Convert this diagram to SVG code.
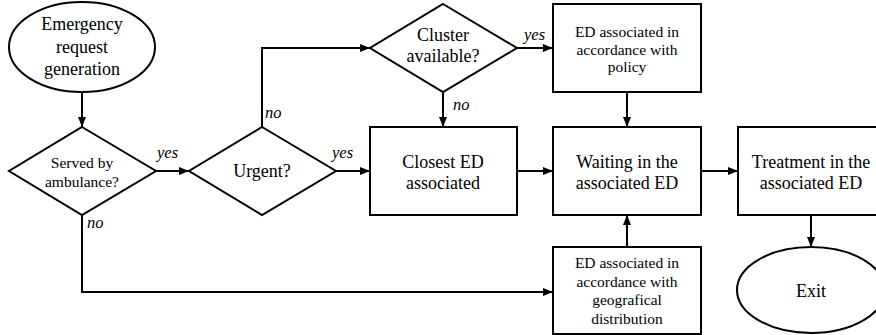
<svg xmlns="http://www.w3.org/2000/svg" width="876" height="335" viewBox="0 0 876 335">
<style>
.s{fill:#fff;stroke:#000;stroke-width:2}
.c{fill:none;stroke:#000;stroke-width:2}
text{fill:#000;text-anchor:middle;font-family:"Liberation Serif","Times New Roman",serif}
.t16{font-size:18px}
.t14{font-size:15.5px}
.t13{font-size:15.5px}
.lb{font-size:16.5px;font-style:italic;text-anchor:start}
</style>
<defs>
<marker id="ah" viewBox="0 0 10 8" refX="10" refY="4" markerWidth="10" markerHeight="8" markerUnits="userSpaceOnUse" orient="auto">
<path d="M0,0 L10,4 L0,8 Z" fill="#000"/>
</marker>
</defs>
<rect width="876" height="335" fill="#fff"/>
<g id="connectors">
<line class="c" x1="82" y1="92" x2="82" y2="127" marker-end="url(#ah)"/>
<line class="c" x1="156" y1="171" x2="189" y2="171" marker-end="url(#ah)"/>
<line class="c" x1="336" y1="171" x2="370" y2="171" marker-end="url(#ah)"/>
<polyline class="c" points="262,127 262,48 370,48" marker-end="url(#ah)"/>
<line class="c" x1="517" y1="48" x2="553" y2="48" marker-end="url(#ah)"/>
<line class="c" x1="443" y1="92" x2="443" y2="127" marker-end="url(#ah)"/>
<line class="c" x1="627" y1="92" x2="627" y2="127" marker-end="url(#ah)"/>
<line class="c" x1="517" y1="171" x2="553" y2="171" marker-end="url(#ah)"/>
<line class="c" x1="701" y1="171" x2="738" y2="171" marker-end="url(#ah)"/>
<line class="c" x1="627" y1="247" x2="627" y2="215" marker-end="url(#ah)"/>
<polyline class="c" points="82,215 82,292 553,292" marker-end="url(#ah)"/>
<line class="c" x1="811" y1="215" x2="811" y2="247" marker-end="url(#ah)"/>
<text class="lb" x="157" y="158">yes</text>
<text class="lb" x="332" y="158">yes</text>
<text class="lb" x="265" y="118">no</text>
<text class="lb" x="87" y="228">no</text>
<text class="lb" x="524" y="40">yes</text>
<text class="lb" x="453" y="110">no</text>
</g>
<g id="start">
<ellipse class="s" cx="82" cy="47" rx="73" ry="45"/>
<text class="t16" x="82" y="30">Emergency</text>
<text class="t16" x="82" y="53">request</text>
<text class="t16" x="82" y="75">generation</text>
</g>
<g id="served">
<polygon class="s" points="82,127 156,171 82,215 9,171"/>
<text class="t14" x="82" y="168">Served by</text>
<text class="t14" x="82" y="187">ambulance?</text>
</g>
<g id="urgent">
<polygon class="s" points="262,127 336,171 262,215 189,171"/>
<text class="t16" x="262" y="177">Urgent?</text>
</g>
<g id="cluster">
<polygon class="s" points="443,4 517,48 443,92 370,48"/>
<text class="t16" x="443" y="41">Cluster</text>
<text class="t16" x="443" y="62">available?</text>
</g>
<g id="policy">
<rect class="s" x="553" y="4" width="148" height="88"/>
<text class="t13" x="627" y="37">ED associated in</text>
<text class="t13" x="627" y="55">accordance with</text>
<text class="t13" x="627" y="72">policy</text>
</g>
<g id="closest">
<rect class="s" x="370" y="127" width="147" height="88"/>
<text class="t16" x="443" y="168">Closest ED</text>
<text class="t16" x="443" y="189">associated</text>
</g>
<g id="waiting">
<rect class="s" x="553" y="127" width="148" height="88"/>
<text class="t16" x="627" y="168">Waiting in the</text>
<text class="t16" x="627" y="189">associated ED</text>
</g>
<g id="treatment">
<rect class="s" x="738" y="127" width="147" height="88"/>
<text class="t16" x="811" y="168">Treatment in the</text>
<text class="t16" x="811" y="189">associated ED</text>
</g>
<g id="geo">
<rect class="s" x="553" y="247" width="148" height="87"/>
<text class="t13" x="627" y="268">ED associated in</text>
<text class="t13" x="627" y="287">accordance with</text>
<text class="t13" x="627" y="305">geografical</text>
<text class="t13" x="627" y="324">distribution</text>
</g>
<g id="exit">
<ellipse class="s" cx="811" cy="290" rx="74" ry="43"/>
<text class="t16" x="811" y="297">Exit</text>
</g>
</svg>
